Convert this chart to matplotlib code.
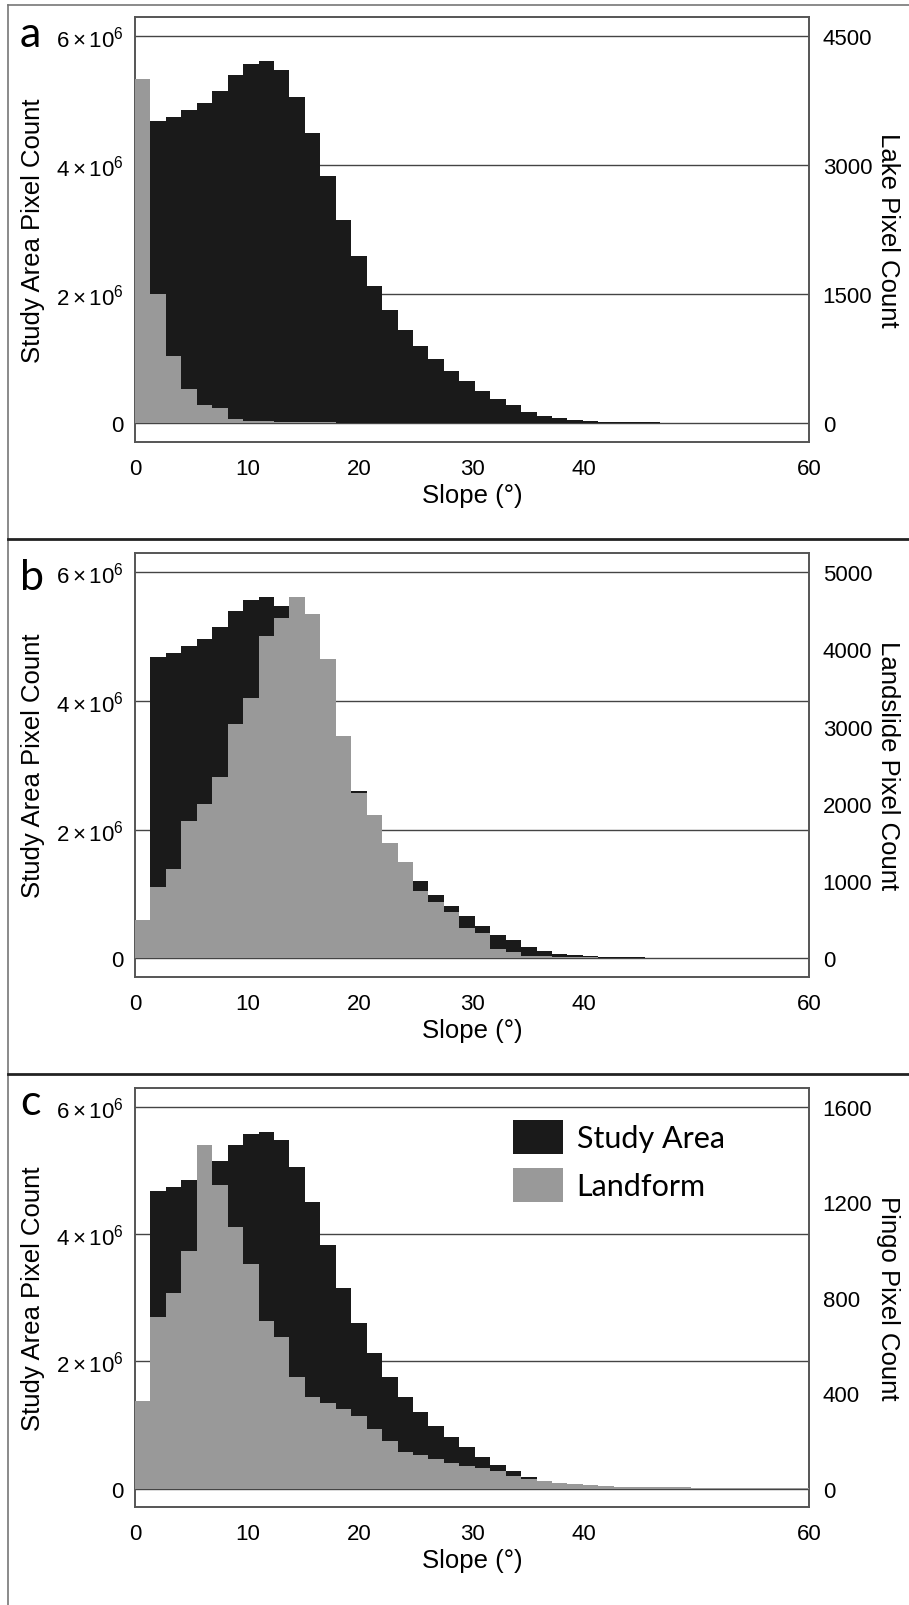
#====================================================================================
# Slope histograms: study area vs landform (lake, landslide, pingo)
#====================================================================================
import numpy as np
import matplotlib
matplotlib.use('Agg')
import matplotlib.pyplot as plt
from matplotlib.patches import Patch
from matplotlib.lines import Line2D

plt.rcParams['font.family'] = ['Liberation Sans', 'DejaVu Sans']
plt.rcParams['mathtext.fontset'] = 'custom'
plt.rcParams['mathtext.rm'] = 'Liberation Sans'
plt.rcParams['mathtext.it'] = 'Liberation Sans:italic'

#------------------------------------------------------------------------------------
# Data
#------------------------------------------------------------------------------------
bin_width = 1.375                      # slope bin width (deg)
n_bins = 44
bin_left = np.arange(n_bins) * bin_width

# study area pixel count per slope bin (millions of pixels)
study_area = [0.50, 4.68, 4.74, 4.85, 4.96, 5.15, 5.40, 5.57, 5.61, 5.47,
              5.05, 4.50, 3.83, 3.15, 2.60, 2.13, 1.75, 1.44, 1.20, 0.99,
              0.81, 0.65, 0.50, 0.37, 0.28, 0.18, 0.115, 0.075, 0.05, 0.035,
              0.025, 0.02, 0.016, 0.013, 0.011, 0.01, 0.008, 0.005, 0.003, 0.003,
              0.003, 0.003, 0.003, 0.003]

lake = [4005, 1500, 788, 398, 218, 180, 52, 30, 22, 18,
        15, 12, 10, 8, 7, 6, 5, 5, 4, 4,
        3, 3, 3, 3, 2, 2, 2, 2, 1, 1,
        1, 1, 1, 1, 0, 0, 0, 0, 0, 0,
        0, 0, 0, 0]

landslide = [500, 917, 1158, 1775, 1992, 2342, 3033, 3367, 4167, 4400,
             4675, 4450, 3875, 2875, 2140, 1858, 1492, 1242, 875, 725,
             600, 392, 325, 117, 83, 33, 25, 18, 15, 12,
             10, 9, 8, 7, 6, 5, 5, 4, 3, 3,
             3, 2, 2, 2]

pingo = [368, 717, 821, 995, 1440, 1272, 1096, 941, 704, 635,
         467, 384, 357, 333, 304, 251, 200, 152, 141, 123,
         109, 96, 88, 75, 53, 42, 32, 25, 18, 13,
         10, 8, 7, 6, 5, 5, 4, 4, 3, 3,
         3, 2, 2, 2]

x_ticks = [0, 10, 20, 30, 40, 60]
left_ticks = [0, 2e6, 4e6, 6e6]
left_labels = ['0', r'$2\times10^{6}$', r'$4\times10^{6}$', r'$6\times10^{6}$']

lake_ticks = [0, 1500, 3000, 4500]
landslide_ticks = [0, 1000, 2000, 3000, 4000, 5000]
pingo_ticks = [0, 400, 800, 1200, 1600]

# panel: letter, landform series, right axis label, right ticks, box top/bottom (px)
panels = [('a', lake, 'Lake Pixel Count', lake_ticks, 18.4, 442.7, 46.7),
          ('b', landslide, 'Landslide Pixel Count', landslide_ticks, 554.3, 977.7, 590),
          ('c', pingo, 'Pingo Pixel Count', pingo_ticks, 1089.3, 1507.7, 1115)]

#------------------------------------------------------------------------------------
W, H = 909, 1606
fig = plt.figure(figsize=(W / 100, H / 100), dpi=100)

black = '#1a1a1a'
grey = '#999999'
ylim = (-0.285e6, 6.29e6)
study = np.array(study_area) * 1e6

for letter, landform, rlabel, rticks, top, bottom, base in panels:
    ax = fig.add_axes([135 / W, 1 - bottom / H, 674 / W, (bottom - top) / H])
    ax.bar(bin_left, study, width=bin_width, align='edge', color=black,
           linewidth=0, zorder=2)
    for yv in left_ticks:
        ax.axhline(yv, color='#444444', lw=1.0, zorder=1)
    ax.set_xlim(0, 60)
    ax.set_ylim(*ylim)
    ax.set_xticks(x_ticks)
    ax.set_yticks(left_ticks)
    ax.set_yticklabels(left_labels)
    ax.tick_params(axis='x', length=0, pad=11.5, labelsize=16)
    ax.tick_params(axis='y', length=0, pad=8.5, labelsize=16)
    for sp in ax.spines.values():
        sp.set_color('#555555')
        sp.set_linewidth(1.4)

    # landform on the right axis, scaled so the top tick sits on 6e6
    scale = rticks[-1] / 6e6
    ax2 = ax.twinx()
    ax2.bar(bin_left, landform, width=bin_width, align='edge', color=grey,
            linewidth=0, zorder=2)
    ax2.set_ylim(ylim[0] * scale, ylim[1] * scale)
    ax2.set_yticks(rticks)
    ax2.tick_params(axis='y', length=0, pad=9.9, labelsize=16)
    for sp in ax2.spines.values():
        sp.set_visible(False)

    ax.text(-0.1513, 0.5, 'Study Area Pixel Count', transform=ax.transAxes,
            rotation=90, ha='center', va='center', fontsize=18.5)
    ax.text(1.1172, 0.5, rlabel, transform=ax.transAxes,
            rotation=270, ha='center', va='center', fontsize=18.5)
    ax.annotate('Slope (°)', xy=(0.5, 0), xycoords='axes fraction',
                xytext=(0, -38.5), textcoords='offset points',
                ha='center', va='center', fontsize=18.5)

    fig.text(20 / W, 1 - base / H, letter, fontsize=31, family='Lato',
             ha='left', va='baseline')

    if letter == 'c':
        handles = [Patch(facecolor=black, edgecolor='none', label='Study Area'),
                   Patch(facecolor=grey, edgecolor='none', label='Landform')]
        ax2.legend(handles=handles, loc='upper left',
                   bbox_to_anchor=((513.3 - 135) / 674, 1 - (1121 - top) / (bottom - top)),
                   frameon=False, borderpad=0, borderaxespad=0,
                   prop={'family': 'Lato', 'size': 22},
                   handlelength=1.636, handleheight=1.31,
                   handletextpad=0.44, labelspacing=0.49)

# outer frame and panel separators
fig.add_artist(Line2D([8 / W, 1], [1 - 6 / H, 1 - 6 / H], color='#777777', lw=1.2))
fig.add_artist(Line2D([8 / W, 8 / W], [0, 1 - 6 / H], color='#777777', lw=1.2))
for ysep in [540, 1075]:
    fig.add_artist(Line2D([8 / W, 1], [1 - ysep / H, 1 - ysep / H], color='#222222', lw=2.0))

fig.savefig('out.png', dpi=100)
plt.close('all')
